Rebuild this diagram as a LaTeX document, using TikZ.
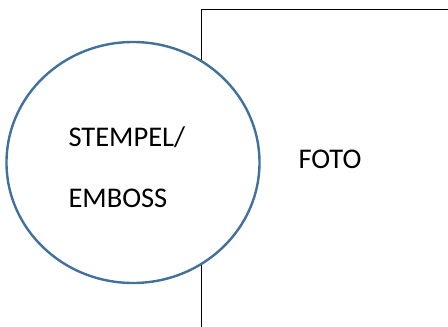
\documentclass[tikz,border=0pt]{standalone}
\usepackage{fontspec}
\setmainfont{Carlito}
\usetikzlibrary{shapes.geometric}
\definecolor{stampblue}{HTML}{41719C}
\tikzset{
  lbl/.style={inner sep=0pt, anchor=base west, font=\fontsize{28.5}{34}\selectfont, text=black},
  photoframe/.style={draw=black, line width=1.8pt},
  stampring/.style={draw=stampblue, line width=2.4pt, fill=white}
}
\begin{document}
\begin{tikzpicture}[x=1pt,y=-1pt]
\useasboundingbox (0,0) rectangle (448,327);
\clip (0,0) rectangle (448,327);
\fill[white] (0,0) rectangle (448,327);
\draw[photoframe] (201.5,340) -- (201.5,9.5) -- (470,9.5);
\node[stampring, ellipse, minimum width=253pt, minimum height=241pt, inner sep=0pt] (stamp) at (133,162.5) {};
\node[lbl] (stempel) at (68.3,146) {STEMPEL/};
\node[lbl] (emboss) at (68.3,207.3) {EMBOSS};
\node[lbl] (foto) at (298.3,168.3) {FOTO};
\end{tikzpicture}
\end{document}
